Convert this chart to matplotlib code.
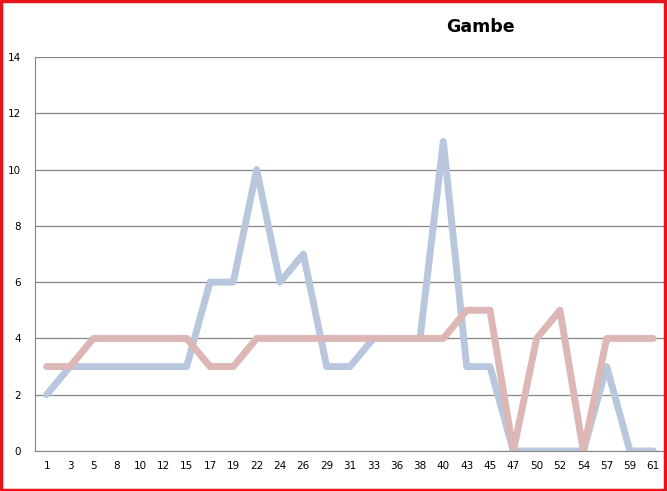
import numpy as np
import matplotlib.pyplot as plt
from matplotlib.patches import Rectangle

giorni = ["1", "3", "5", "8", "10", "12", "15", "17", "19", "22", "24", "26", "29", "31",
          "33", "36", "38", "40", "43", "45", "47", "50", "52", "54", "57", "59", "61"]
serie_blu = [2, 3, 3, 3, 3, 3, 3, 6, 6, 10, 6, 7, 3, 3, 4, 4, 4, 11, 3, 3, 0, 0, 0, 0, 3, 0, 0]
serie_rossa = [3, 3, 4, 4, 4, 4, 4, 3, 3, 4, 4, 4, 4, 4, 4, 4, 4, 4, 5, 5, 0, 4, 5, 0, 4, 4, 4]

fig = plt.figure(figsize=(6.67, 4.91), dpi=100)
ax = fig.add_axes([35 / 667, 40 / 491, 630 / 667, 394 / 491])

x = np.arange(len(giorni))
ax.plot(x, serie_blu, color="#b9c7de", linewidth=5, solid_capstyle="round", solid_joinstyle="round")
ax.plot(x, serie_rossa, color="#ddb7b6", linewidth=5, solid_capstyle="round", solid_joinstyle="round")

ax.set_xlim(-0.5, len(giorni) - 0.5)
ax.set_ylim(0, 14)
ax.set_yticks(range(0, 15, 2))
ax.set_xticks(x)
ax.set_xticklabels(giorni)
ax.tick_params(axis="both", labelsize=7.5, length=0, colors="black")
ax.tick_params(axis="y", pad=10)
ax.tick_params(axis="x", pad=7)
ax.grid(True, axis="y", color="#868686", linewidth=0.9)
ax.set_axisbelow(True)
for s in ["top", "right"]:
    ax.spines[s].set_visible(False)
ax.spines["left"].set_color("#868686")
ax.spines["bottom"].set_color("#868686")

fig.text(480 / 667, 1 - 27 / 491, "Gambe", ha="center", va="center", fontsize=12.5, fontweight="bold")

fig.patches.append(Rectangle((0.002, 0.003), 0.995, 0.994, transform=fig.transFigure,
                             fill=False, edgecolor="#e8141c", linewidth=2.5))

fig.savefig("out.png", dpi=100)
